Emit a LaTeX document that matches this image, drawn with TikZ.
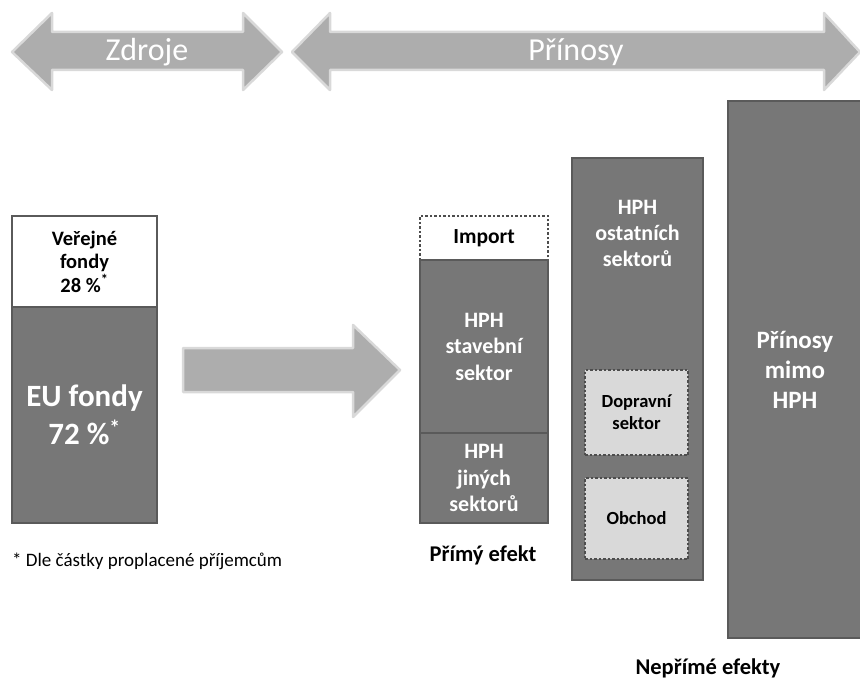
\documentclass[tikz,border=0pt]{standalone}
\usepackage{fontspec}
\setmainfont{Carlito}
\usetikzlibrary{positioning}
\definecolor{boxgray}{HTML}{777777}
\definecolor{edgegray}{HTML}{5A5A5A}
\definecolor{dotgray}{HTML}{4D4D4D}
\definecolor{arrowgray}{HTML}{ADADAD}
\definecolor{arrowedge}{HTML}{D9D9D9}
\definecolor{lightbox}{HTML}{D9D9D9}
\tikzset{x=1pt, y=-1pt, node distance=0pt}
\tikzstyle{block} = [draw=edgegray, fill=boxgray, line width=2pt, rectangle, anchor=north west, inner sep=0pt, outer sep=0pt, text=white, align=center, font=\bfseries\fontsize{22}{26.5}\selectfont]
\tikzstyle{dotbox} = [block, draw=dotgray, dash pattern=on 2.5pt off 2pt, line width=2.5pt, fill=lightbox, text=black, font=\bfseries\fontsize{18.5}{22}\selectfont]
\tikzstyle{bigarrow} = [fill=arrowgray, draw=arrowedge, line width=2.5pt, line join=round]
\tikzstyle{arrowtext} = [text=white, font=\fontsize{32}{36}\selectfont]
\tikzstyle{caption} = [align=center, font=\bfseries\fontsize{22.5}{25}\selectfont]

\begin{document}
\begin{tikzpicture}
	\useasboundingbox (0,0) rectangle (860,679);

	% arrows at the top
	\draw [bigarrow] (12,52) -- (52,13) -- (52,32) -- (243,32) -- (243,13) -- (282,52) -- (243,90) -- (243,70) -- (52,70) -- (52,90) -- cycle;
	\draw [bigarrow] (292,52) -- (330,13) -- (330,32) -- (824,32) -- (824,13) -- (860,52) -- (824,90) -- (824,70) -- (330,70) -- (330,90) -- cycle;
	\node [arrowtext] (zdroje) at (147,52) {Zdroje};
	\node [arrowtext] (prinosy) at (576,52) {Přínosy};

	% sources
	\node [block, fill=white, text=black, minimum width=145pt, minimum height=91pt, font=\bfseries\fontsize{20.5}{23.5}\selectfont] (verejne) at (12,216) {Veřejné\\fondy\\28~\%\textsuperscript{*}};
	\node [block, below=of verejne, minimum width=145pt, minimum height=216pt, font=\bfseries\fontsize{31}{38}\selectfont] (eu) {EU fondy\\72~\%\textsuperscript{*}};
	\node [anchor=west, font=\fontsize{19}{22}\selectfont, inner sep=0pt] (note) at (12,561) {* Dle částky proplacené příjemcům};

	\draw [bigarrow] (183,348) -- (353,348) -- (353,325) -- (400,370) -- (353,417) -- (353,392) -- (183,392) -- cycle;

	% direct effect
	\node [dotbox, fill=white, minimum width=128pt, minimum height=44pt, font=\bfseries\fontsize{21.5}{23}\selectfont] (import) at (420,216) {Import};
	\node [block, below=of import, minimum width=128pt, minimum height=173pt] (stavebni) {HPH\\stavební\\sektor};
	\node [block, below=of stavebni, minimum width=128pt, minimum height=90pt] (jine) {HPH\\jiných\\sektorů};
	\node [caption] (primy) at (483,555) {Přímý efekt};

	% indirect effects
	\node [block, minimum width=131pt, minimum height=422pt] (ostatni) at (572,158) {};
	\node [text=white, align=center, font=\bfseries\fontsize{22}{26}\selectfont] (ostatni_t) at (637.5,233) {HPH\\ostatních\\sektorů};
	\node [dotbox, minimum width=103pt, minimum height=85pt] (doprava) at (585,370) {Dopravní\\sektor};
	\node [dotbox, minimum width=103pt, minimum height=81pt] (obchod) at (585,478) {Obchod};

	\node [block, minimum width=134pt, minimum height=537pt, font=\bfseries\fontsize{25}{30}\selectfont] (mimo) at (728,101) {Přínosy\\mimo\\HPH};
	\node [caption] (neprime) at (708,668) {Nepřímé efekty};
\end{tikzpicture}
\end{document}
